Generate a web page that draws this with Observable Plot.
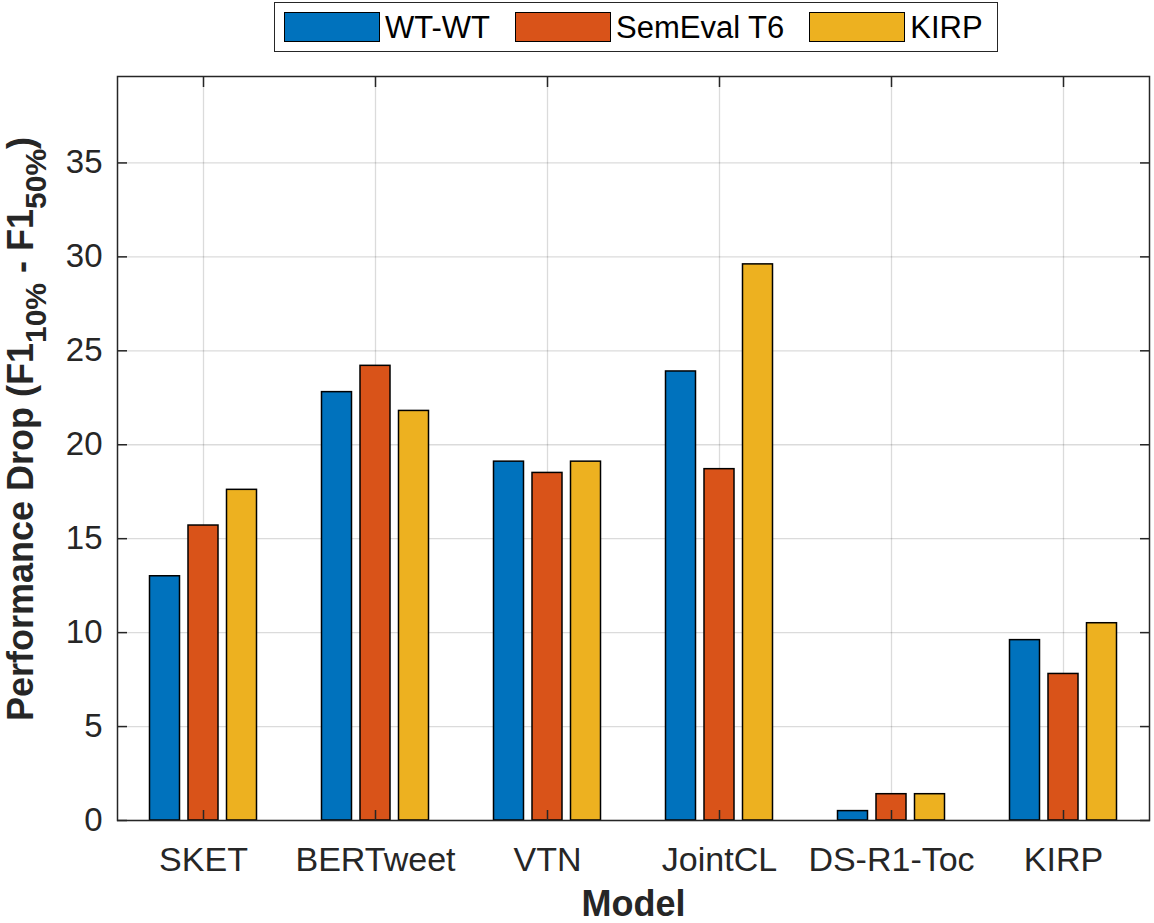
<!DOCTYPE html>
<html>
<head>
<meta charset="utf-8">
<script src="https://cdn.jsdelivr.net/npm/d3@7"></script>
<script src="https://cdn.jsdelivr.net/npm/@observablehq/plot@0.6"></script>
<style>
  body { margin: 0; background: #fff; font-family: "Liberation Sans", Arial, Helvetica, sans-serif; }
  #legend { position: relative; height: 54px; }
  #legend .box {
    position: absolute; left: 274px; top: 2px; height: 50px; box-sizing: border-box;
    border: 1.5px solid #262626; background: #fff;
    display: flex; align-items: center; padding: 0 14px 0 9px;
  }
  #legend .sw { width: 96px; height: 30px; box-sizing: border-box; border: 1.5px solid #000; }
  #legend .lab { font-size: 31px; color: #000; margin-left: 5px; margin-right: 25px; line-height: 1; }
  #legend .lab:last-child { margin-right: 0; }
</style>
</head>
<body>
<div id="legend"><div class="box"></div></div>
<div id="chart"></div>
<script>
// Models on the x axis
const models = ["SKET", "BERTweet", "VTN", "JointCL", "DS-R1-Toc", "KIRP"];
// Datasets (one bar per dataset inside each model group)
const datasets = ["WT-WT", "SemEval T6", "KIRP"];
// Performance drop F1(10%) - F1(50%) per dataset, in model order
const wtwt      = [13.0, 22.8, 19.1, 23.9, 0.5, 9.6];
const semeval   = [15.7, 24.2, 18.5, 18.7, 1.4, 7.8];
const kirp      = [17.6, 21.8, 19.1, 29.6, 1.4, 10.5];
const yTicks    = [0, 5, 10, 15, 20, 25, 30, 35];
const colors    = ["#0072BD", "#D95319", "#EDB120"];

const seriesValues = [wtwt, semeval, kirp];
const rows = datasets.map((s, i) => models.map((m, j) => ({model: m, dataset: s, value: seriesValues[i][j]})));

// legend
const box = document.querySelector("#legend .box");
datasets.forEach((s, i) => {
  const sw = document.createElement("div");
  sw.className = "sw"; sw.style.background = colors[i];
  const lab = document.createElement("div");
  lab.className = "lab"; lab.textContent = s;
  box.appendChild(sw); box.appendChild(lab);
});

const axisColor = "#262626";
const barStep = 38.5;   // spacing between bars inside a group
const barInset = 71;    // trims each bar down from the full group band

const bars = rows.map((data, i) => Plot.barY(data, {
  x: "model", y: "value",
  fill: colors[i], stroke: "#000", strokeWidth: 1.5,
  insetLeft: barInset, insetRight: barInset,
  dx: (i - 1) * barStep
}));

const chart = Plot.plot({
  width: 1154,
  height: 869,
  marginTop: 22,
  marginLeft: 117,
  marginRight: 5,
  marginBottom: 103,
  style: {fontFamily: '"Liberation Sans", Arial, Helvetica, sans-serif', color: axisColor, background: "#fff"},
  x: {domain: models, padding: 0, label: null},
  y: {domain: [0, 39.6], label: null},
  marks: [
    Plot.gridY(yTicks, {stroke: "#000", strokeOpacity: 0.14, strokeWidth: 1.3}),
    Plot.gridX({stroke: "#000", strokeOpacity: 0.14, strokeWidth: 1.3}),
    ...bars,
    Plot.frame({stroke: axisColor, strokeWidth: 1.5}),
    Plot.axisY(yTicks, {anchor: "left", tickSize: -10, tickPadding: 25, fontSize: 33, strokeWidth: 1.5, color: axisColor, label: null}),
    Plot.axisY(yTicks, {anchor: "right", tickSize: -10, tickFormat: () => "", strokeWidth: 1.5, color: axisColor, label: null}),
    Plot.axisX({anchor: "bottom", tickSize: -10, tickPadding: 36, fontSize: 34, strokeWidth: 1.5, color: axisColor, label: null}),
    Plot.axisX({anchor: "top", tickSize: -10, tickFormat: () => "", strokeWidth: 1.5, color: axisColor, label: null}),
    Plot.text(["Model"], {text: d => d, frameAnchor: "bottom", dy: 84, lineAnchor: "middle",
      fontSize: 36, fontWeight: "bold", fill: axisColor})
  ]
});

// y-axis title with subscripts
const svg = d3.select(chart);
const t = svg.append("text")
  .attr("transform", `translate(33,${429 - 54}) rotate(-90)`)
  .attr("text-anchor", "middle")
  .attr("font-size", 36)
  .attr("font-weight", "bold")
  .attr("fill", axisColor);
t.append("tspan").text("Performance Drop (F1");
t.append("tspan").attr("font-size", 30).attr("dy", 13).text("10%");
t.append("tspan").attr("dy", -13).text(" - F1");
t.append("tspan").attr("font-size", 30).attr("dy", 13).text("50%");
t.append("tspan").attr("dy", -13).text(")");

document.getElementById("chart").appendChild(chart);
</script>
</body>
</html>
